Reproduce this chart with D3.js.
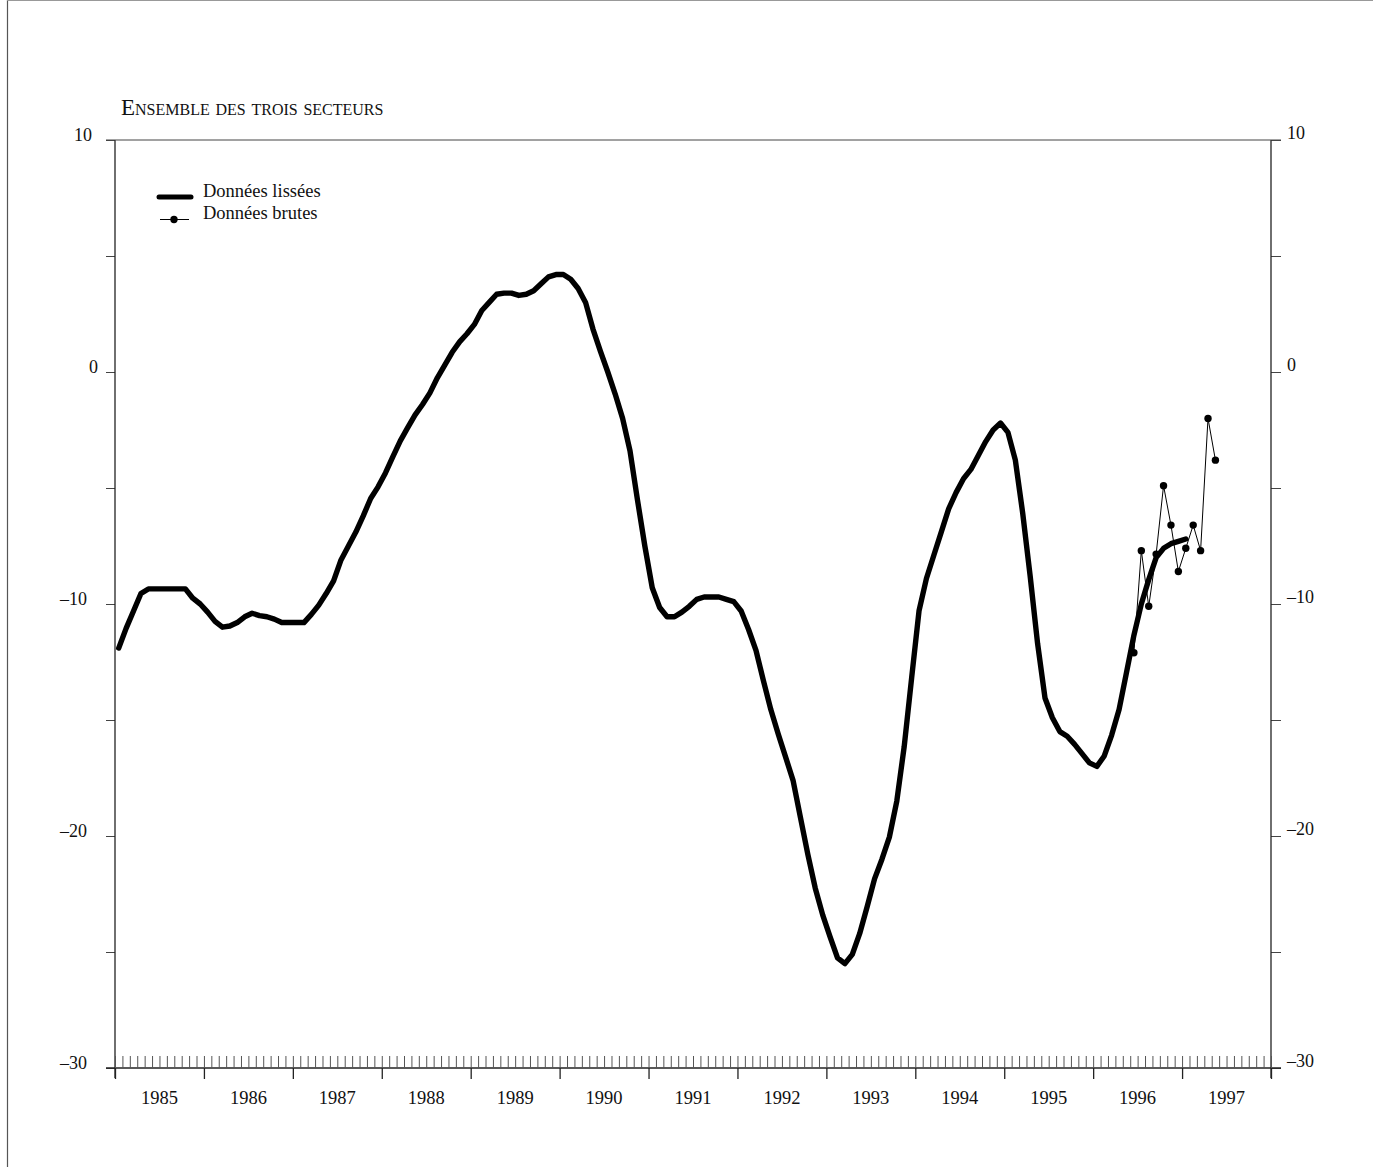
<!DOCTYPE html>
<html>
<head>
<meta charset="utf-8">
<script src="https://cdn.jsdelivr.net/npm/d3@7"></script>
<style>
  html, body { margin: 0; padding: 0; background: #fff; }
  svg { display: block; }
  text { font-family: "Liberation Serif", "DejaVu Serif", serif; fill: #111; }
</style>
</head>
<body>
<svg id="chart" width="1373" height="1167"></svg>
<script>
// ---- Data ----
const title = "Ensemble des trois secteurs";
const legendLabels = ["Données lissées", "Données brutes"];
const yearLabels = [1985,1986,1987,1988,1989,1990,1991,1992,1993,1994,1995,1996,1997];
const yTickValues = [10, 5, 0, -5, -10, -15, -20, -25, -30];
const yLabelValues = [10, 0, -10, -20, -30];

// Smoothed series: monthly, from January 1985 to January 1997
const smoothValues = [
  -11.9,-11.05,-10.3,-9.55,-9.35,-9.35,-9.35,-9.35,-9.35,-9.35,-9.75,-10.0,
  -10.35,-10.75,-11.0,-10.95,-10.8,-10.55,-10.4,-10.5,-10.55,-10.65,-10.8,-10.8,
  -10.8,-10.8,-10.45,-10.05,-9.55,-9.0,-8.1,-7.5,-6.9,-6.2,-5.45,-4.95,
  -4.35,-3.65,-2.97,-2.4,-1.85,-1.4,-0.9,-0.25,0.3,0.85,1.3,1.65,
  2.05,2.65,3.0,3.35,3.4,3.4,3.3,3.35,3.5,3.8,4.1,4.2,
  4.2,4.0,3.6,3.0,1.85,0.9,0.0,-0.95,-2.0,-3.4,-5.5,-7.5,
  -9.3,-10.15,-10.55,-10.55,-10.35,-10.1,-9.8,-9.7,-9.7,-9.7,-9.8,-9.9,
  -10.3,-11.1,-12.0,-13.3,-14.55,-15.6,-16.6,-17.6,-19.2,-20.8,-22.25,-23.4,
  -24.35,-25.25,-25.5,-25.1,-24.2,-23.05,-21.85,-21.0,-20.05,-18.5,-16.15,-13.2,
  -10.3,-8.9,-7.9,-6.9,-5.9,-5.2,-4.6,-4.2,-3.6,-3.0,-2.5,-2.2,
  -2.6,-3.8,-6.1,-8.8,-11.7,-14.05,-14.9,-15.5,-15.7,-16.05,-16.45,-16.85,
  -17.0,-16.55,-15.65,-14.55,-12.95,-11.35,-10.0,-8.95,-8.0,-7.6,-7.4,-7.3,
  -7.2
];

// Raw series: monthly, from June 1996 to May 1997
const rawStartMonth = 137; // months after Jan 1985
const rawValues = [-12.1,-7.7,-10.1,-7.85,-4.9,-6.6,-8.6,-7.6,-6.6,-7.7,-2.0,-3.8];

// ---- Layout ----
const svg = d3.select("#chart");
const x = d3.scaleLinear().domain([1985, 1998]).range([115, 1271]);
const y = d3.scaleLinear().domain([-30, 10]).range([1068, 140]);
const monthT = k => 1985 + (k + 0.5) / 12;

const smooth = smoothValues.map((v, k) => ({t: monthT(k), v}));
const raw = rawValues.map((v, i) => ({t: monthT(rawStartMonth + i), v}));

// page frame (left edge)
svg.append("line").attr("x1", 7.5).attr("x2", 7.5).attr("y1", 0).attr("y2", 1167)
  .attr("stroke", "#555").attr("stroke-width", 1.2);
svg.append("line").attr("x1", 7).attr("x2", 1373).attr("y1", 0.5).attr("y2", 0.5)
  .attr("stroke", "#999").attr("stroke-width", 1);

const axisColor = "#222";

// Left axis
const leftAxis = d3.axisLeft(y).tickValues(yTickValues).tickSize(9).tickFormat("");
const gL = svg.append("g").attr("transform", `translate(${x(1985)},0)`).call(leftAxis);
// Right axis
const rightAxis = d3.axisRight(y).tickValues(yTickValues).tickSize(10).tickFormat("");
const gR = svg.append("g").attr("transform", `translate(${x(1998)},0)`).call(rightAxis);
[gL, gR].forEach(g => {
  g.select(".domain").remove();
  g.selectAll(".tick line").attr("stroke", "#444").attr("stroke-width", 1);
});
// vertical axis lines
svg.append("line").attr("x1", x(1985)).attr("x2", x(1985)).attr("y1", y(10)).attr("y2", y(-30) + 10)
  .attr("stroke", axisColor).attr("stroke-width", 1.3);
svg.append("line").attr("x1", x(1998)).attr("x2", x(1998)).attr("y1", y(10)).attr("y2", y(-30) + 10)
  .attr("stroke", axisColor).attr("stroke-width", 1.3);
// top and bottom horizontal lines
svg.append("line").attr("x1", x(1985) - 9).attr("x2", x(1998) + 10).attr("y1", y(10)).attr("y2", y(10))
  .attr("stroke", "#444").attr("stroke-width", 1);
svg.append("line").attr("x1", x(1985) - 9).attr("x2", x(1998) + 10).attr("y1", y(-30)).attr("y2", y(-30))
  .attr("stroke", axisColor).attr("stroke-width", 1.3);

const fmt = d => d < 0 ? "\u2013" + Math.abs(d) : String(d);

// Y labels
svg.append("g").selectAll("text").data(yLabelValues).join("text")
  .attr("x", d => d === 0 ? x(1985) - 17 : (d > 0 ? x(1985) - 23 : x(1985) - 28))
  .attr("y", d => y(d) + 1)
  .attr("text-anchor", "end").attr("font-size", 18)
  .text(fmt);
svg.append("g").selectAll("text").data(yLabelValues).join("text")
  .attr("x", x(1998) + 16).attr("y", d => y(d) - 1)
  .attr("text-anchor", "start").attr("font-size", 18)
  .text(fmt);

// X minor ticks (monthly, inward) and major ticks (yearly, outward)
const months = d3.range(0, 13 * 12 + 1).map(m => 1985 + m / 12);
const minorAxis = d3.axisTop(x).tickValues(months).tickSize(12).tickFormat("");
const gMinor = svg.append("g").attr("transform", `translate(0,${y(-30)})`).call(minorAxis);
gMinor.select(".domain").remove();
gMinor.selectAll(".tick line").attr("stroke", "#555").attr("stroke-width", 1);

const yearTicks = d3.range(1985, 1999);
const majorAxis = d3.axisBottom(x).tickValues(yearTicks).tickSize(11).tickFormat("");
const gMajor = svg.append("g").attr("transform", `translate(0,${y(-30)})`).call(majorAxis);
gMajor.select(".domain").remove();
gMajor.selectAll(".tick line").attr("stroke", axisColor).attr("stroke-width", 1.3);

// Year labels centered in each year interval
svg.append("g").selectAll("text").data(yearLabels).join("text")
  .attr("x", d => x(d + 0.5)).attr("y", y(-30) + 36)
  .attr("text-anchor", "middle").attr("font-size", 18.5)
  .text(d => d);

// Title (small caps)
svg.append("text").attr("x", 121).attr("y", 115)
  .attr("font-size", 23).style("font-variant", "small-caps")
  .text(title);

// Lines
const line = d3.line().x(d => x(d.t)).y(d => y(d.v));
svg.append("path").datum(smooth).attr("d", line)
  .attr("fill", "none").attr("stroke", "#000").attr("stroke-width", 5.4)
  .attr("stroke-linejoin", "round").attr("stroke-linecap", "round");

svg.append("path").datum(raw).attr("d", line)
  .attr("fill", "none").attr("stroke", "#000").attr("stroke-width", 1);
svg.append("g").selectAll("circle").data(raw).join("circle")
  .attr("cx", d => x(d.t)).attr("cy", d => y(d.v)).attr("r", 3.7).attr("fill", "#000");

// Legend
const lg = svg.append("g");
lg.append("line").attr("x1", 159).attr("x2", 191).attr("y1", 197).attr("y2", 197)
  .attr("stroke", "#000").attr("stroke-width", 5).attr("stroke-linecap", "round");
lg.append("text").attr("x", 203).attr("y", 197).attr("font-size", 18.5).text(legendLabels[0]);
lg.append("line").attr("x1", 160).attr("x2", 189).attr("y1", 219.5).attr("y2", 219.5)
  .attr("stroke", "#000").attr("stroke-width", 1);
lg.append("circle").attr("cx", 174).attr("cy", 219.5).attr("r", 3.7).attr("fill", "#000");
lg.append("text").attr("x", 203).attr("y", 219).attr("font-size", 18.5).text(legendLabels[1]);
</script>
</body>
</html>
